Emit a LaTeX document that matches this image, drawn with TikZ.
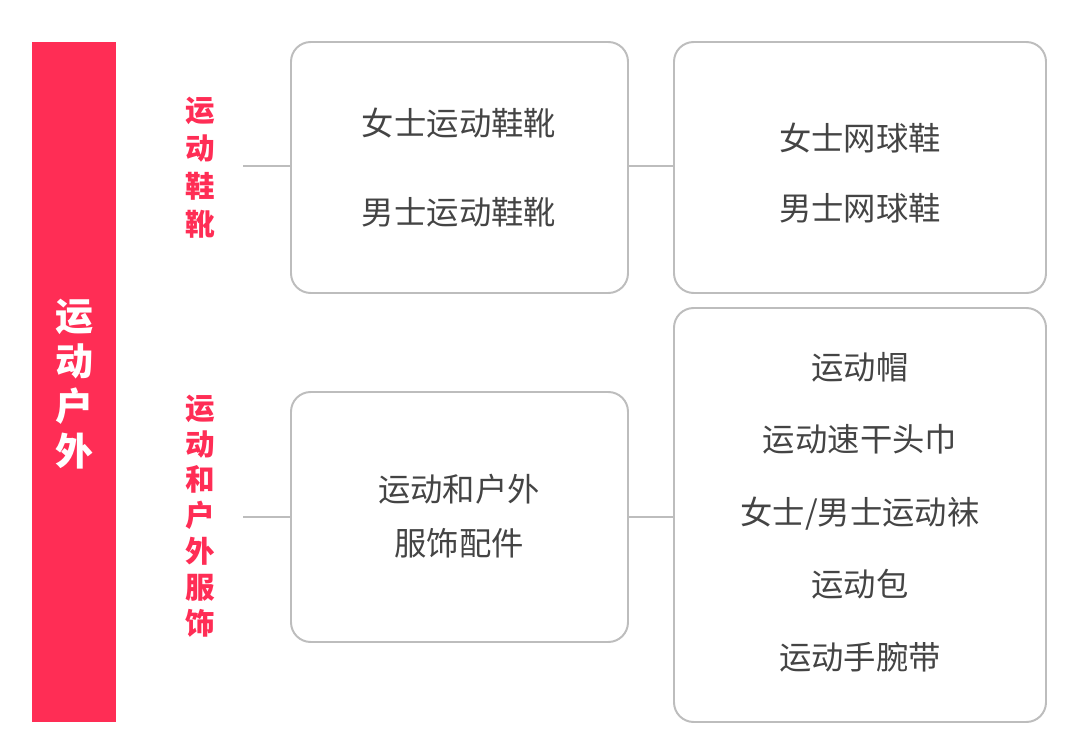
\documentclass[tikz,border=0pt]{standalone}
\usepackage{fontspec}
\setmainfont{Noto Sans CJK SC}
\usetikzlibrary{positioning}
\definecolor{accent}{HTML}{FF2D55}
\definecolor{boxline}{HTML}{BDBDBD}
\definecolor{txt}{HTML}{444444}
\begin{document}
\begin{tikzpicture}[x=0.025cm,y=-0.025cm,
    item/.style={draw=boxline, line width=1.4pt, rounded corners=14pt},
    itemtext/.style={text=txt, font=\fontsize{23}{0}\selectfont, align=center},
    cat/.style={text=accent, font=\bfseries\fontsize{21}{27}\selectfont, align=center},
    link/.style={draw=boxline, line width=1.4pt}
  ]
  \useasboundingbox (0,0) rectangle (1080,754);

  % side bar
  \fill[accent] (32,42) rectangle (116,722);
  \node[text=white, font=\bfseries\fontsize{27}{32}\selectfont, align=center] (main) at (74,384) {运\\动\\户\\外};

  % categories
  \node[cat] (shoes) at (200,168) {运\\动\\鞋\\靴};
  \node[cat, font=\bfseries\fontsize{21}{25.5}\selectfont] (wear) at (200,516) {运\\动\\和\\户\\外\\服\\饰};

  % boxes
  \draw[item] (291,42) rectangle (628,293);
  \node[itemtext] (shoesA) at (459,123) {女士运动鞋靴};
  \node[itemtext] (shoesB) at (459,212) {男士运动鞋靴};
  \draw[item] (674,42) rectangle (1046,293);
  \node[itemtext, font=\fontsize{23}{50}\selectfont] (tennis) at (860,173) {女士网球鞋\\男士网球鞋};
  \draw[item] (291,392) rectangle (628,642);
  \node[itemtext, font=\fontsize{23}{38}\selectfont] (acc) at (459,516) {运动和户外\\服饰配件};
  \draw[item] (674,308) rectangle (1046,722);
  \node[itemtext, font=\fontsize{23}{51.5}\selectfont] (list) at (860,512) {运动帽\\运动速干头巾\\女士/男士运动袜\\运动包\\运动手腕带};

  % connectors
  \coordinate (s1) at (243,166); \coordinate (s2) at (291,166);
  \coordinate (s3) at (628,166); \coordinate (s4) at (674,166);
  \coordinate (w1) at (243,517); \coordinate (w2) at (291,517);
  \coordinate (w3) at (628,517); \coordinate (w4) at (674,517);
  \draw[link] (s1) -- (s2);
  \draw[link] (s3) -- (s4);
  \draw[link] (w1) -- (w2);
  \draw[link] (w3) -- (w4);
\end{tikzpicture}
\end{document}
